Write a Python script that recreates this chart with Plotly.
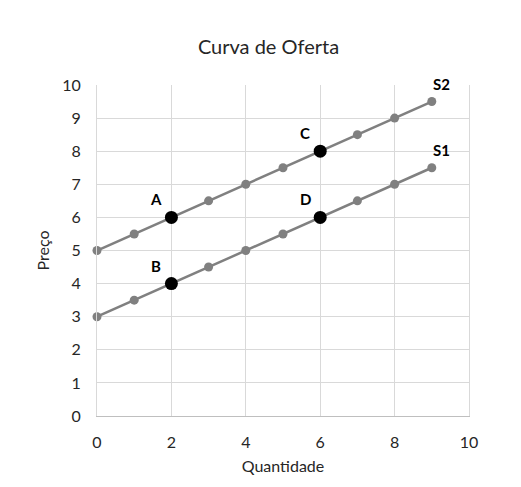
import plotly.graph_objects as go

quantidade = [0, 1, 2, 3, 4, 5, 6, 7, 8, 9]
s1_preco = [3, 3.5, 4, 4.5, 5, 5.5, 6, 6.5, 7, 7.5]
s2_preco = [5, 5.5, 6, 6.5, 7, 7.5, 8, 8.5, 9, 9.5]

pontos_nome = ["A", "B", "C", "D"]
pontos_x = [2, 2, 6, 6]
pontos_y = [6, 4, 8, 6]

curvas_nome = ["S2", "S1"]
curvas_x = [9, 9]
curvas_y = [9.5, 7.5]

FONT = "Lato, 'Noto Sans', sans-serif"
GRAY = "#808080"
TXT = "#262626"

fig = go.Figure()
for y in (s1_preco, s2_preco):
    fig.add_trace(go.Scatter(
        x=quantidade, y=y, mode="lines+markers",
        line=dict(color=GRAY, width=2.5),
        marker=dict(color=GRAY, size=9),
        showlegend=False, hoverinfo="skip", cliponaxis=False))

fig.add_trace(go.Scatter(
    x=pontos_x, y=pontos_y, mode="markers",
    marker=dict(color="black", size=13),
    showlegend=False, cliponaxis=False))

for n, x, y in zip(pontos_nome, pontos_x, pontos_y):
    fig.add_annotation(x=x, y=y, text=f"<b>{n}</b>", showarrow=False,
                       xshift=-15, yshift=18,
                       font=dict(family=FONT, size=15, color="black"))

for n, x, y in zip(curvas_nome, curvas_x, curvas_y):
    fig.add_annotation(x=x, y=y, text=f"<b>{n}</b>", showarrow=False,
                       xshift=10, yshift=18,
                       font=dict(family=FONT, size=15, color="black"))

fig.update_layout(
    template="none",
    width=521, height=487,
    margin=dict(l=89, r=60, t=77, b=79),
    paper_bgcolor="white", plot_bgcolor="white",
    font=dict(family=FONT, size=16, color=TXT),
    title=dict(text="Curva de Oferta", x=0.5, xanchor="center",
               y=1 - 39 / 487, yanchor="middle",
               font=dict(family=FONT, size=20, color=TXT)),
    xaxis=dict(range=[0, 10], dtick=2, showgrid=True, gridcolor="#d9d9d9",
               gridwidth=1, zeroline=False, showline=True, linecolor="#bfbfbf",
               linewidth=1, ticks="", ticklabelstandoff=12,
               tickfont=dict(family=FONT, size=16, color=TXT),
               title=dict(text="Quantidade", standoff=10,
                          font=dict(family=FONT, size=16, color=TXT)),
               fixedrange=True),
    yaxis=dict(range=[0, 10], dtick=1, showgrid=True, gridcolor="#d9d9d9",
               gridwidth=1, zeroline=False, showline=True, linecolor="#d9d9d9",
               linewidth=1, mirror=True, ticks="", ticklabelstandoff=12,
               tickfont=dict(family=FONT, size=16, color=TXT),
               title=dict(text="Preço", standoff=8,
                          font=dict(family=FONT, size=16, color=TXT)),
               fixedrange=True),
)

fig.write_html("out.html")
